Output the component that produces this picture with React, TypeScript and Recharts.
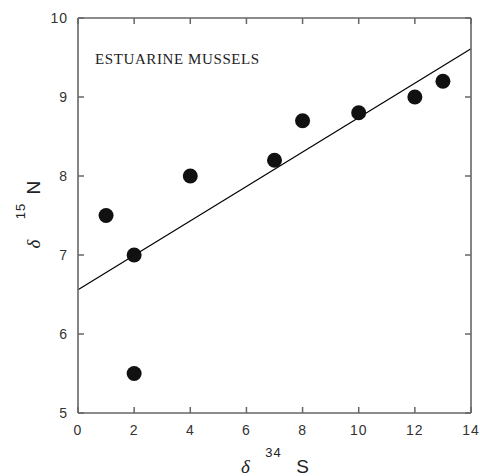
import React from "react";
import {
  ComposedChart,
  Scatter,
  Line,
  XAxis,
  YAxis,
} from "recharts";

// δ34S vs δ15N, estuarine mussels
const sulfur = [1, 2, 2, 4, 7, 8, 10, 12, 13];
const nitrogen = [7.5, 7.0, 5.5, 8.0, 8.2, 8.7, 8.8, 9.0, 9.2];

// regression line end points
const fitX = [0, 14];
const fitY = [6.56, 9.61];

const xTicks = [0, 2, 4, 6, 8, 10, 12, 14];
const yTicks = [5, 6, 7, 8, 9, 10];

const points = sulfur.map((s, i) => ({ x: s, y: nitrogen[i] }));
const fitPoints = fitX.map((x, i) => ({ x, y: fitY[i] }));

const AXIS = "#666";
const TICK_TEXT = "#333";
const SANS = "'Liberation Sans', Arial, sans-serif";
const SERIF = "'Liberation Serif', 'Times New Roman', serif";
const TL = 6; // inward tick length

function BottomTick({ x, y, payload }: any) {
  return (
    <g>
      <line x1={x} y1={y} x2={x} y2={y - TL} stroke={AXIS} strokeWidth={1.5} />
      <text x={x} y={y + 22} textAnchor="middle" fontSize={14} fill={TICK_TEXT} fontFamily={SANS} letterSpacing={1}>
        {payload.value}
      </text>
    </g>
  );
}

function LeftTick({ x, y, payload }: any) {
  return (
    <g>
      <line x1={x} y1={y} x2={x + TL} y2={y} stroke={AXIS} strokeWidth={1.5} />
      <text x={x - 10} y={y + 5} textAnchor="end" fontSize={14} fill={TICK_TEXT} fontFamily={SANS} letterSpacing={1}>
        {payload.value}
      </text>
    </g>
  );
}

function TopTick({ x, y }: any) {
  return <line x1={x} y1={y} x2={x} y2={y + TL} stroke={AXIS} strokeWidth={1.5} />;
}

function RightTick({ x, y }: any) {
  return <line x1={x} y1={y} x2={x - TL} y2={y} stroke={AXIS} strokeWidth={1.5} />;
}

function Dot({ cx, cy }: any) {
  return <circle cx={cx} cy={cy} r={7.5} fill="#111" />;
}

function XTitle({ viewBox }: any) {
  const cx = viewBox.x + viewBox.width / 2;
  const base = viewBox.y + 60;
  return (
    <g fill="#222">
      <text x={cx - 29} y={base} textAnchor="middle" fontSize={19} fontStyle="italic" fontFamily={SERIF}>δ</text>
      <text x={cx - 1} y={base - 16} textAnchor="middle" fontSize={13} fontFamily={SANS} letterSpacing={1}>34</text>
      <text x={cx + 28} y={base} textAnchor="middle" fontSize={19} fontFamily={SANS}>S</text>
    </g>
  );
}

function YTitle({ viewBox }: any) {
  const cy = viewBox.y + viewBox.height / 2;
  const px = viewBox.x + 2;
  const parts = [
    { t: "δ", dx: px, dy: cy + 28.5, size: 19, italic: true, serif: true },
    { t: "15", dx: px - 15, dy: cy - 4.5, size: 13, italic: false, serif: false },
    { t: "N", dx: px, dy: cy - 28.5, size: 19, italic: false, serif: false },
  ];
  return (
    <g fill="#222">
      {parts.map((p) => (
        <text
          key={p.t}
          x={p.dx}
          y={p.dy}
          transform={`rotate(-90, ${p.dx}, ${p.dy})`}
          textAnchor="middle"
          fontSize={p.size}
          fontStyle={p.italic ? "italic" : "normal"}
          fontFamily={p.serif ? SERIF : SANS}
          letterSpacing={p.serif ? 0 : 1}
        >
          {p.t}
        </text>
      ))}
    </g>
  );
}

function PanelTitle({ viewBox }: any) {
  return (
    <text x={viewBox.x + 17} y={viewBox.y + viewBox.height + 46} fontSize={15} fontFamily={SERIF} fill="#222" letterSpacing={0.6}>
      ESTUARINE MUSSELS
    </text>
  );
}

const axisLine = { stroke: AXIS, strokeWidth: 1.6 };

export default function App() {
  return (
    <div style={{ position: "absolute", left: 0, top: 0, background: "#fff" }}>
      <ComposedChart
        width={480}
        height={476}
        margin={{ top: 17, right: 8, bottom: 33, left: 38 }}
      >
        <XAxis
          xAxisId="b"
          type="number"
          dataKey="x"
          domain={[0, 14]}
          ticks={xTicks}
          height={30}
          tickSize={0}
          tickMargin={0}
          tickLine={false}
          axisLine={axisLine}
          tick={<BottomTick />}
          label={{ content: <XTitle /> }}
        />
        <XAxis
          xAxisId="t"
          orientation="top"
          type="number"
          dataKey="x"
          domain={[0, 14]}
          ticks={xTicks}
          height={1}
          tickSize={0}
          tickMargin={0}
          tickLine={false}
          axisLine={axisLine}
          tick={<TopTick />}
          label={{ content: <PanelTitle /> }}
        />
        <YAxis
          yAxisId="l"
          type="number"
          dataKey="y"
          domain={[5, 10]}
          ticks={yTicks}
          width={40}
          tickSize={0}
          tickMargin={0}
          tickLine={false}
          axisLine={axisLine}
          tick={<LeftTick />}
          label={{ content: <YTitle /> }}
        />
        <YAxis
          yAxisId="r"
          orientation="right"
          type="number"
          dataKey="y"
          domain={[5, 10]}
          ticks={yTicks}
          width={1}
          tickSize={0}
          tickMargin={0}
          tickLine={false}
          axisLine={axisLine}
          tick={<RightTick />}
        />
        <Line
          xAxisId="t"
          yAxisId="r"
          data={fitPoints}
          dataKey="y"
          stroke="#000"
          strokeWidth={1.2}
          dot={false}
          activeDot={false}
          isAnimationActive={false}
        />
        <Scatter
          xAxisId="b"
          yAxisId="l"
          data={points}
          shape={<Dot />}
          isAnimationActive={false}
        />
      </ComposedChart>
    </div>
  );
}
